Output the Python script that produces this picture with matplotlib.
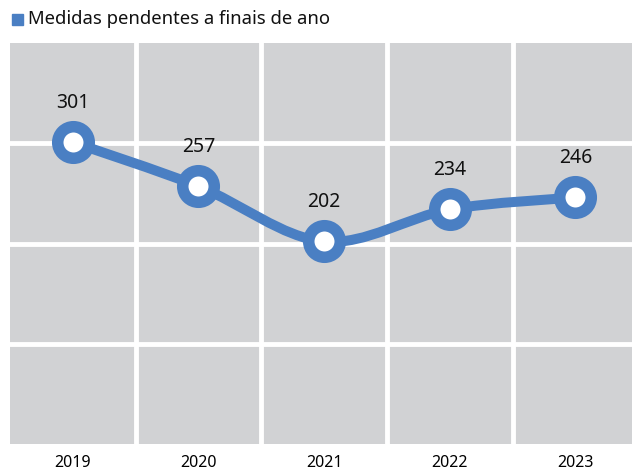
import matplotlib
matplotlib.use("Agg")
import matplotlib.pyplot as plt
from matplotlib.path import Path
from matplotlib.patches import PathPatch, Rectangle

# data
years = ["2019", "2020", "2021", "2022", "2023"]
pending = [301, 257, 202, 234, 246]

BLUE = "#4a7fc3"
GRAY = "#d1d2d4"

plt.rcParams["font.family"] = ["Noto Sans", "DejaVu Sans"]

fig = plt.figure(figsize=(6.32, 4.75), dpi=100)
ax = fig.add_axes([10 / 632, 31 / 475, 1 - 10 / 632, 401 / 475])
ax.set_facecolor(GRAY)
ax.set_xlim(-0.5, 4.45)
ax.set_ylim(0, 400)

# white grid between cells
for xb in [0.5, 1.5, 2.5, 3.5]:
    ax.axvline(xb, color="white", lw=3.5, zorder=1)
for yb in [100, 200, 300]:
    ax.axhline(yb, color="white", lw=3.5, zorder=1)

# smoothed line (catmull-rom as bezier segments)
xs = list(range(len(pending)))
verts = [(xs[0], pending[0])]
codes = [Path.MOVETO]
for i in range(len(xs) - 1):
    p0 = (xs[max(i - 1, 0)], pending[max(i - 1, 0)])
    p1 = (xs[i], pending[i])
    p2 = (xs[i + 1], pending[i + 1])
    p3 = (xs[min(i + 2, len(xs) - 1)], pending[min(i + 2, len(xs) - 1)])
    c1 = (p1[0] + (p2[0] - p0[0]) / 6, p1[1] + (p2[1] - p0[1]) / 6)
    c2 = (p2[0] - (p3[0] - p1[0]) / 6, p2[1] - (p3[1] - p1[1]) / 6)
    verts += [c1, c2, p2]
    codes += [Path.CURVE4] * 3
ax.add_patch(PathPatch(Path(verts, codes), fill=False, edgecolor=BLUE,
                       lw=7.2, capstyle="round", zorder=2))

ax.plot(xs, pending, linestyle="none", marker="o", markersize=22.7,
        markerfacecolor="white", markeredgecolor=BLUE, markeredgewidth=8.3,
        zorder=3)

for x, v in zip(xs, pending):
    ax.annotate(str(v), (x, v), xytext=(0, 21), textcoords="offset points",
                ha="center", va="bottom", fontsize=14, color="#111111")

ax.set_xticks(xs)
ax.set_xticklabels(years, fontsize=11.5)
ax.set_yticks([])
ax.tick_params(axis="x", length=0, pad=8)
for s in ax.spines.values():
    s.set_visible(False)

# legend
fig.patches.append(Rectangle((12 / 632, 1 - 25 / 475), 11 / 632, 11 / 475,
                             transform=fig.transFigure, color=BLUE))
fig.text(28 / 632, 1 - 19 / 475, "Medidas pendentes a finais de ano",
         fontsize=13.3, va="center", ha="left", color="#111111")

fig.savefig("out.png", dpi=100)
